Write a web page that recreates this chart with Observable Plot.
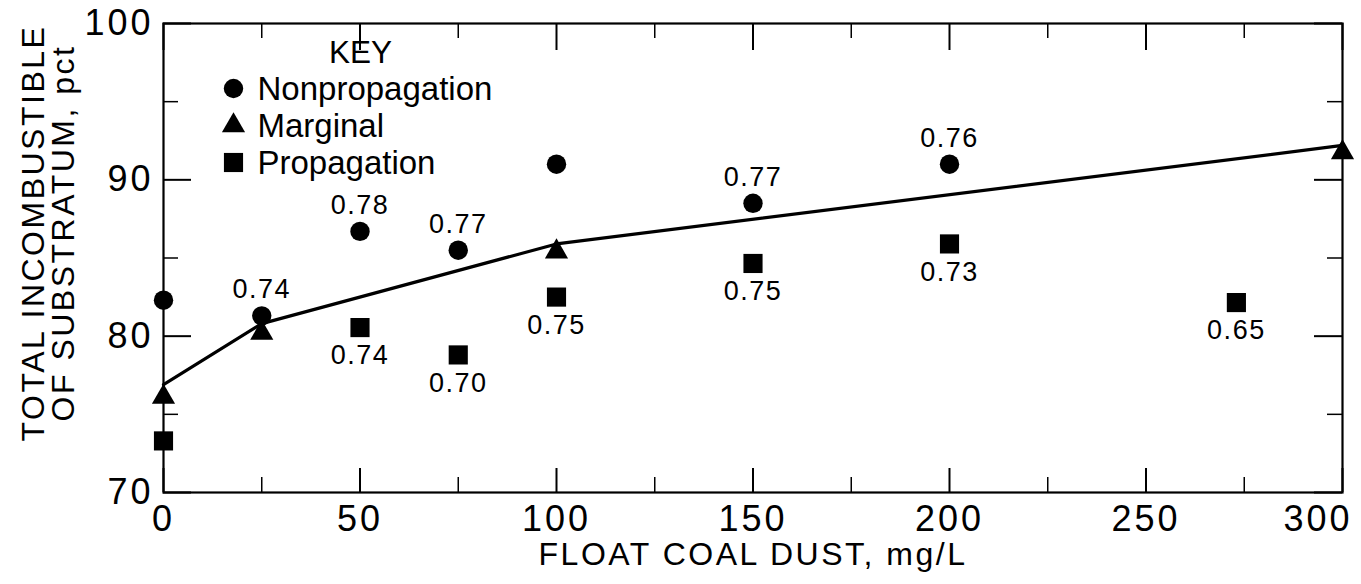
<!DOCTYPE html>
<html>
<head>
<meta charset="utf-8">
<script src="https://cdn.jsdelivr.net/npm/d3@7"></script>
<script src="https://cdn.jsdelivr.net/npm/@observablehq/plot@0.6"></script>
<style>
  html, body { margin: 0; padding: 0; background: #fff; }
  #chart svg g[font-size="36"] { letter-spacing: 3px; }
  #chart svg g[font-size="32"] { letter-spacing: 2.5px; }
  #chart svg g[font-size="27"] { letter-spacing: 1.5px; }
</style>
</head>
<body>
<div id="chart"></div>
<script>
// ---- Data ----
const nonpropX = [0, 25, 50, 75, 100, 150, 200];
const nonpropY = [82.3, 81.3, 86.7, 85.5, 91.0, 88.5, 91.0];
const nonpropLabel = ["", "0.74", "0.78", "0.77", "", "0.77", "0.76"];

const marginalX = [0, 25, 100, 300];
const marginalY = [76.1, 80.2, 85.4, 91.75];

const propX = [0, 50, 75, 100, 150, 200, 273];
const propY = [73.3, 80.55, 78.8, 82.5, 84.65, 85.9, 82.15];
const propLabel = ["", "0.74", "0.70", "0.75", "0.75", "0.73", "0.65"];

const trendX = [0, 25, 100, 300];
const trendY = [76.9, 80.8, 85.9, 92.2];

const xMajor = [0, 50, 100, 150, 200, 250, 300];
const xMinor = [25, 75, 125, 175, 225, 275];
const yMajor = [70, 80, 90, 100];
const yMinor = [75, 85, 95];

const legendTitle = "KEY";
const legendNames = ["Nonpropagation", "Marginal", "Propagation"];
const legendSymbols = ["circle", "triangle", "square"];

const xTitle = "FLOAT COAL DUST, mg/L";
const yTitle = "TOTAL INCOMBUSTIBLE\nOF SUBSTRATUM, pct";

// ---- Build tables ----
const nonprop = nonpropX.map((x, i) => ({x, y: nonpropY[i], label: nonpropLabel[i]}));
const marginal = marginalX.map((x, i) => ({x, y: marginalY[i]}));
const prop = propX.map((x, i) => ({x, y: propY[i], label: propLabel[i]}));
const trend = trendX.map((x, i) => ({x, y: trendY[i]}));

const W = 1361, H = 584;
const mL = 163, mR = 19, mT = 23, mB = 92;
const innerW = W - mL - mR, innerH = H - mT - mB;
const font = "'Liberation Sans', Arial, sans-serif";
const symR = {circle: 9.7, triangle: 8.6, square: 10.8};
const legendRowDy = [66, 103, 140];

const plot = Plot.plot({
  width: W,
  height: H,
  marginLeft: mL,
  marginRight: mR,
  marginTop: mT,
  marginBottom: mB,
  style: {fontFamily: font, background: "white", color: "black", overflow: "visible"},
  x: {domain: [0, 300], label: null},
  y: {domain: [70, 100], label: null},
  marks: [
    // ticks on all four sides, pointing inward
    Plot.tickX(xMajor, {x: d => d, insetTop: innerH - 24, stroke: "black", strokeWidth: 2}),
    Plot.tickX(xMinor, {x: d => d, insetTop: innerH - 15, stroke: "black", strokeWidth: 1.5}),
    Plot.tickX(xMajor, {x: d => d, insetBottom: innerH - 27, stroke: "black", strokeWidth: 2}),
    Plot.tickX(xMinor, {x: d => d, insetBottom: innerH - 15, stroke: "black", strokeWidth: 1.5}),
    Plot.tickY(yMajor, {y: d => d, insetRight: innerW - 28, stroke: "black", strokeWidth: 2}),
    Plot.tickY(yMinor, {y: d => d, insetRight: innerW - 15, stroke: "black", strokeWidth: 1.5}),
    Plot.tickY(yMajor, {y: d => d, insetLeft: innerW - 28, stroke: "black", strokeWidth: 2}),
    Plot.tickY(yMinor, {y: d => d, insetLeft: innerW - 15, stroke: "black", strokeWidth: 1.5}),
    Plot.frame({stroke: "black", strokeWidth: 2.2}),

    // trend line
    Plot.line(trend, {x: "x", y: "y", stroke: "black", strokeWidth: 3.2}),

    // points
    Plot.dot(nonprop, {x: "x", y: "y", symbol: "circle", r: symR.circle, fill: "black", stroke: "none"}),
    Plot.dot(marginal, {x: "x", y: "y", symbol: "triangle", r: symR.triangle, fill: "black", stroke: "none"}),
    Plot.dot(prop, {x: "x", y: "y", symbol: "square", r: symR.square, fill: "black", stroke: "none"}),

    // value labels
    Plot.text(nonprop.filter(d => d.label), {x: "x", y: "y", text: "label", dy: -26, fontSize: 27, lineAnchor: "middle", fill: "black"}),
    Plot.text(prop.filter(d => d.label), {x: "x", y: "y", text: "label", dy: 28, fontSize: 27, lineAnchor: "middle", fill: "black"}),

    // axes (labels only)
    Plot.axisX({ticks: xMajor.slice(0, -1), tickSize: 0, tickPadding: 13, fontSize: 36, tickFormat: d => String(d), label: null}),
    Plot.text(xMajor.slice(-1), {x: d => d, frameAnchor: "bottom", text: d => String(d), dy: 13, dx: 10,
      textAnchor: "end", lineAnchor: "top", fontSize: 36, fill: "black"}),
    Plot.axisY({ticks: yMajor, tickSize: 0, tickPadding: 10, fontSize: 36, tickFormat: d => String(d), label: null}),

    // axis titles
    Plot.text([xTitle], {frameAnchor: "bottom", dy: 62, fontSize: 32, textAnchor: "middle", lineAnchor: "middle", fill: "black"}),
    Plot.text([yTitle], {frameAnchor: "left", rotate: -90, dx: -114, dy: -25, fontSize: 32, lineHeight: 0.95,
      textAnchor: "middle", lineAnchor: "middle", fill: "black"}),

    // key
    Plot.text([legendTitle], {frameAnchor: "top-left", dx: 197, dy: 29, fontSize: 31.5, textAnchor: "middle", lineAnchor: "middle", fill: "black"}),
    ...legendNames.map((name, i) => Plot.dot([name], {
      frameAnchor: "top-left", dx: 70, dy: legendRowDy[i] - 1, symbol: legendSymbols[i],
      r: symR[legendSymbols[i]], fill: "black", stroke: "none"
    })),
    ...legendNames.map((name, i) => Plot.text([name], {
      frameAnchor: "top-left", dx: 94, dy: legendRowDy[i], fontSize: 33,
      textAnchor: "start", lineAnchor: "middle", fill: "black"
    }))
  ]
});

document.getElementById("chart").appendChild(plot);
</script>
</body>
</html>
